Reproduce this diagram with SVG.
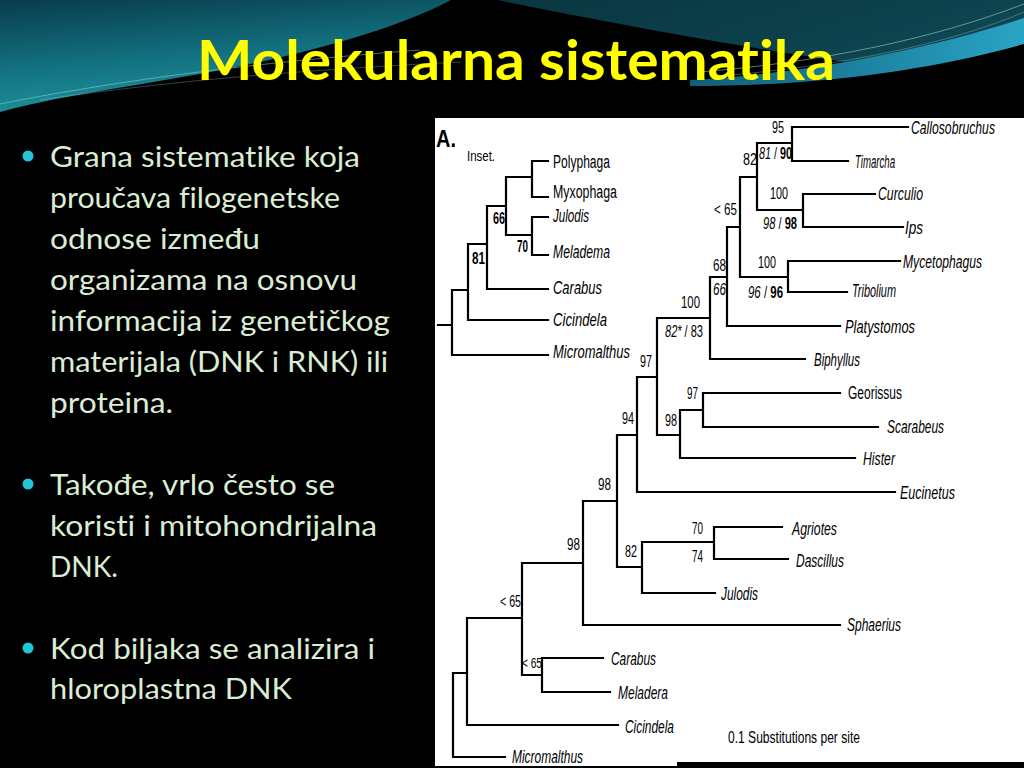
<svg xmlns="http://www.w3.org/2000/svg" width="1024" height="768" viewBox="0 0 1024 768">
<defs>
<linearGradient id="tealL" x1="0" y1="0" x2="0.3" y2="1">
<stop offset="0" stop-color="#083c4c"/>
<stop offset="0.55" stop-color="#126f7e"/>
<stop offset="1" stop-color="#1e949c"/>
</linearGradient>
<linearGradient id="tealR" x1="0" y1="0" x2="1" y2="0.4">
<stop offset="0" stop-color="#0a3640"/>
<stop offset="1" stop-color="#0d4652"/>
</linearGradient>
<linearGradient id="band" x1="0" y1="0" x2="1" y2="0">
<stop offset="0" stop-color="#0f5e78"/>
<stop offset="1" stop-color="#2aa4c6"/>
</linearGradient>
<style>
text{font-variant-ligatures:none}
.body{font-family:Lato,"Open Sans","Liberation Sans",sans-serif;font-size:29px;fill:#dbecd4}
.tx{font-family:"Liberation Sans",Arial,sans-serif;font-size:18px;font-style:italic;fill:#000}
.tn{font-family:"Liberation Sans",Arial,sans-serif;font-size:18px;fill:#000}
.sv{font-family:"Liberation Sans",Arial,sans-serif;font-size:17px;fill:#000}
.it{font-style:italic}
.bd{font-weight:bold}
.br{fill:none;stroke:#000;stroke-width:2.2;stroke-linecap:square}
</style>
</defs>
<rect width="1024" height="768" fill="#000"/>
<g id="background">
<path d="M0,0 H451 C400,28 300,56 200,74 C120,88 50,98 0,112 Z" fill="url(#tealL)"/>
<path d="M497,0 H1024 V22 C960,40 900,55 845,62 C760,50 620,25 497,0 Z" fill="url(#tealR)"/>
<path d="M690,80 C800,74 920,52 1024,18 V44 C930,70 820,86 690,86 Z" fill="url(#band)"/>
<path d="M0,104 C120,80 260,62 420,50" fill="none" stroke="#9ee0e6" stroke-width="0.8" opacity="0.6"/>
<path d="M40,100 C160,82 300,70 460,62" fill="none" stroke="#9ee0e6" stroke-width="0.6" opacity="0.5"/>
<path d="M700,72 C820,62 930,40 1024,4" fill="none" stroke="#bfeef4" stroke-width="0.8" opacity="0.6"/>
<path d="M720,76 C840,66 950,44 1024,12" fill="none" stroke="#bfeef4" stroke-width="0.6" opacity="0.5"/>
</g>
<g id="title">
<text x="197" y="80" font-family="Lato,'Open Sans','Liberation Sans',sans-serif" font-weight="bold" font-size="56" fill="#ffff00" textLength="638" lengthAdjust="spacingAndGlyphs">Molekularna sistematika</text>
</g>
<g id="bullets">
<circle cx="28" cy="156" r="5.5" fill="#22c4d6"/>
<circle cx="28" cy="484" r="5.5" fill="#22c4d6"/>
<circle cx="28" cy="648" r="5.5" fill="#22c4d6"/>
<text class="body" x="50" y="167" textLength="310" lengthAdjust="spacingAndGlyphs">Grana sistematike koja</text>
<text class="body" x="50" y="208" textLength="290" lengthAdjust="spacingAndGlyphs">proučava filogenetske</text>
<text class="body" x="50" y="249" textLength="210" lengthAdjust="spacingAndGlyphs">odnose između</text>
<text class="body" x="50" y="290" textLength="307" lengthAdjust="spacingAndGlyphs">organizama na osnovu</text>
<text class="body" x="50" y="331" textLength="340" lengthAdjust="spacingAndGlyphs">informacija iz genetičkog</text>
<text class="body" x="50" y="372" textLength="338" lengthAdjust="spacingAndGlyphs">materijala (DNK i RNK) ili</text>
<text class="body" x="50" y="413" textLength="123" lengthAdjust="spacingAndGlyphs">proteina.</text>
<text class="body" x="50" y="495" textLength="285" lengthAdjust="spacingAndGlyphs">Takođe, vrlo često se</text>
<text class="body" x="50" y="536" textLength="327" lengthAdjust="spacingAndGlyphs">koristi i mitohondrijalna</text>
<text class="body" x="50" y="577" textLength="68" lengthAdjust="spacingAndGlyphs">DNK.</text>
<text class="body" x="50" y="659" textLength="325" lengthAdjust="spacingAndGlyphs">Kod biljaka se analizira i</text>
<text class="body" x="50" y="699" textLength="242" lengthAdjust="spacingAndGlyphs">hloroplastna DNK</text>
</g>
<rect id="figure-panel" x="435" y="118" width="589" height="648" fill="#fff"/>
<rect x="677" y="762" width="347" height="6" fill="#000"/>
<g id="connectors" class="br">
<path d="M438,325 H452 M452,290 V355 M452,355 H548 M452,290 H468 M468,244 V320 M468,320 H548 M468,244 H487 M487,206 V289 M487,289 H548 M487,206 H506 M506,177 V235 M506,177 H532 M532,161 V197 M532,161 H548 M532,197 H548 M506,235 H532 M532,217 V255 M532,217 H548 M532,255 H548"/>
<path d="M453,673 V757 M453,757 H505 M453,673 H467 M467,618 V725 M467,725 H618 M467,618 H522 M522,563 V675 M522,675 H542 M522,563 H583 M542,658 V692 M542,658 H603 M542,692 H610 M583,501 V625 M583,625 H840 M583,501 H617 M617,435 V567 M617,567 H642 M617,435 H637 M642,542 V593 M642,593 H715 M642,542 H714 M714,527 V559 M714,527 H782 M714,559 H788 M637,377 V492 M637,492 H895 M637,377 H657 M657,318 V435 M657,435 H680 M657,318 H710 M680,410 V458 M680,458 H855 M680,410 H703 M703,393 V427 M703,393 H840 M703,427 H878 M710,277 V359 M710,359 H805 M710,277 H727 M727,227 V326 M727,326 H840 M727,227 H740 M740,177 V277 M740,277 H788 M740,177 H757 M788,261 V292 M788,261 H900 M788,292 H847 M757,143 V210 M757,210 H803 M757,143 H792 M803,194 V227 M803,194 H875 M803,227 H903 M792,127 V161 M792,127 H908 M792,161 H848"/>
</g>
<g id="figure-labels">
<text x="436" y="147" font-family="'Liberation Sans',Arial,sans-serif" font-weight="bold" font-size="23" fill="#000" textLength="20" lengthAdjust="spacingAndGlyphs">A.</text>
<text x="467" y="161" font-family="'Liberation Sans',Arial,sans-serif" font-size="15" fill="#000" textLength="28" lengthAdjust="spacingAndGlyphs">Inset.</text>
<text x="728" y="743" font-family="'Liberation Sans',Arial,sans-serif" font-size="17" fill="#000" textLength="132" lengthAdjust="spacingAndGlyphs">0.1 Substitutions per site</text>
</g>
<g id="inset-taxa">
<g id="inset-polyphaga"><text class="tn" x="553" y="168" textLength="57" lengthAdjust="spacingAndGlyphs">Polyphaga</text></g>
<g id="inset-myxophaga"><text class="tn" x="553" y="198" textLength="64" lengthAdjust="spacingAndGlyphs">Myxophaga</text></g>
<g id="inset-julodis"><text class="tx" x="553" y="222" textLength="36" lengthAdjust="spacingAndGlyphs">Julodis</text></g>
<g id="inset-meladema"><text class="tx" x="553" y="258" textLength="57" lengthAdjust="spacingAndGlyphs">Meladema</text></g>
<g id="inset-carabus"><text class="tx" x="553" y="294" textLength="49" lengthAdjust="spacingAndGlyphs">Carabus</text></g>
<g id="inset-cicindela"><text class="tx" x="553" y="326" textLength="54" lengthAdjust="spacingAndGlyphs">Cicindela</text></g>
<g id="inset-micromalthus"><text class="tx" x="553" y="358" textLength="77" lengthAdjust="spacingAndGlyphs">Micromalthus</text></g>
<g id="inset-support" class="sv bd">
<text x="493" y="224" textLength="12" lengthAdjust="spacingAndGlyphs">66</text>
<text x="472" y="264" textLength="13" lengthAdjust="spacingAndGlyphs">81</text>
<text x="517" y="252" textLength="11" lengthAdjust="spacingAndGlyphs">70</text>
</g>
</g>
<g id="main-taxa">
<g id="callosobruchus"><text class="tx" x="911" y="134" textLength="84" lengthAdjust="spacingAndGlyphs">Callosobruchus</text></g>
<g id="timarcha"><text class="tx" x="855" y="168" textLength="40" lengthAdjust="spacingAndGlyphs">Timarcha</text></g>
<g id="curculio"><text class="tx" x="878" y="200" textLength="45" lengthAdjust="spacingAndGlyphs">Curculio</text></g>
<g id="ips"><text class="tx" x="905" y="234" textLength="18" lengthAdjust="spacingAndGlyphs">Ips</text></g>
<g id="mycetophagus"><text class="tx" x="903" y="268" textLength="79" lengthAdjust="spacingAndGlyphs">Mycetophagus</text></g>
<g id="tribolium"><text class="tx" x="852" y="297" font-size="15" textLength="44" lengthAdjust="spacingAndGlyphs">Tribolium</text></g>
<g id="platystomos"><text class="tx" x="845" y="333" textLength="70" lengthAdjust="spacingAndGlyphs">Platystomos</text></g>
<g id="biphyllus"><text class="tx" x="814" y="366" textLength="46" lengthAdjust="spacingAndGlyphs">Biphyllus</text></g>
<g id="georissus"><text class="tn" x="848" y="399" textLength="54" lengthAdjust="spacingAndGlyphs">Georissus</text></g>
<g id="scarabeus"><text class="tx" x="887" y="433" textLength="57" lengthAdjust="spacingAndGlyphs">Scarabeus</text></g>
<g id="hister"><text class="tx" x="863" y="465" textLength="32" lengthAdjust="spacingAndGlyphs">Hister</text></g>
<g id="eucinetus"><text class="tx" x="900" y="499" textLength="55" lengthAdjust="spacingAndGlyphs">Eucinetus</text></g>
<g id="agriotes"><text class="tx" x="792" y="535" textLength="45" lengthAdjust="spacingAndGlyphs">Agriotes</text></g>
<g id="dascillus"><text class="tx" x="796" y="567" textLength="48" lengthAdjust="spacingAndGlyphs">Dascillus</text></g>
<g id="julodis"><text class="tx" x="721" y="600" textLength="37" lengthAdjust="spacingAndGlyphs">Julodis</text></g>
<g id="sphaerius"><text class="tx" x="847" y="631" textLength="54" lengthAdjust="spacingAndGlyphs">Sphaerius</text></g>
<g id="carabus"><text class="tx" x="611" y="665" textLength="45" lengthAdjust="spacingAndGlyphs">Carabus</text></g>
<g id="meladera"><text class="tx" x="618" y="699" textLength="50" lengthAdjust="spacingAndGlyphs">Meladera</text></g>
<g id="cicindela"><text class="tx" x="625" y="733" textLength="49" lengthAdjust="spacingAndGlyphs">Cicindela</text></g>
<g id="micromalthus"><text class="tx" x="512" y="763" textLength="71" lengthAdjust="spacingAndGlyphs">Micromalthus</text></g>
</g>
<g id="main-support" class="sv">
<text x="772" y="133" textLength="12" lengthAdjust="spacingAndGlyphs">95</text>
<text x="759" y="159" textLength="33" lengthAdjust="spacingAndGlyphs"><tspan class="it">81</tspan> / <tspan class="bd">90</tspan></text>
<text x="743" y="165" textLength="14" lengthAdjust="spacingAndGlyphs">82</text>
<text x="770" y="199" textLength="18" lengthAdjust="spacingAndGlyphs">100</text>
<text x="763" y="229" textLength="34" lengthAdjust="spacingAndGlyphs"><tspan class="it">98</tspan> / <tspan class="bd">98</tspan></text>
<text x="714" y="215" textLength="23" lengthAdjust="spacingAndGlyphs">&lt; 65</text>
<text x="758" y="268" textLength="18" lengthAdjust="spacingAndGlyphs">100</text>
<text x="748" y="298" textLength="35" lengthAdjust="spacingAndGlyphs"><tspan class="it">96</tspan> / <tspan class="bd">96</tspan></text>
<text x="713" y="271" textLength="13" lengthAdjust="spacingAndGlyphs">68</text>
<text x="713" y="295" class="it" textLength="13" lengthAdjust="spacingAndGlyphs">66</text>
<text x="681" y="308" textLength="19" lengthAdjust="spacingAndGlyphs">100</text>
<text x="665" y="337" textLength="38" lengthAdjust="spacingAndGlyphs"><tspan class="it">82* </tspan>/ 83</text>
<text x="640" y="367" textLength="12" lengthAdjust="spacingAndGlyphs">97</text>
<text x="687" y="399" textLength="11" lengthAdjust="spacingAndGlyphs">97</text>
<text x="665" y="426" textLength="12" lengthAdjust="spacingAndGlyphs">98</text>
<text x="622" y="424" textLength="12" lengthAdjust="spacingAndGlyphs">94</text>
<text x="598" y="490" textLength="13" lengthAdjust="spacingAndGlyphs">98</text>
<text x="567" y="550" textLength="13" lengthAdjust="spacingAndGlyphs">98</text>
<text x="625" y="557" textLength="12" lengthAdjust="spacingAndGlyphs">82</text>
<text x="692" y="534" textLength="11" lengthAdjust="spacingAndGlyphs">70</text>
<text x="692" y="562" textLength="11" lengthAdjust="spacingAndGlyphs">74</text>
<text x="500" y="607" textLength="21" lengthAdjust="spacingAndGlyphs">&lt; 65</text>
<text x="522" y="668" font-size="15" textLength="20" lengthAdjust="spacingAndGlyphs">&lt; 65</text>
</g>
</svg>
